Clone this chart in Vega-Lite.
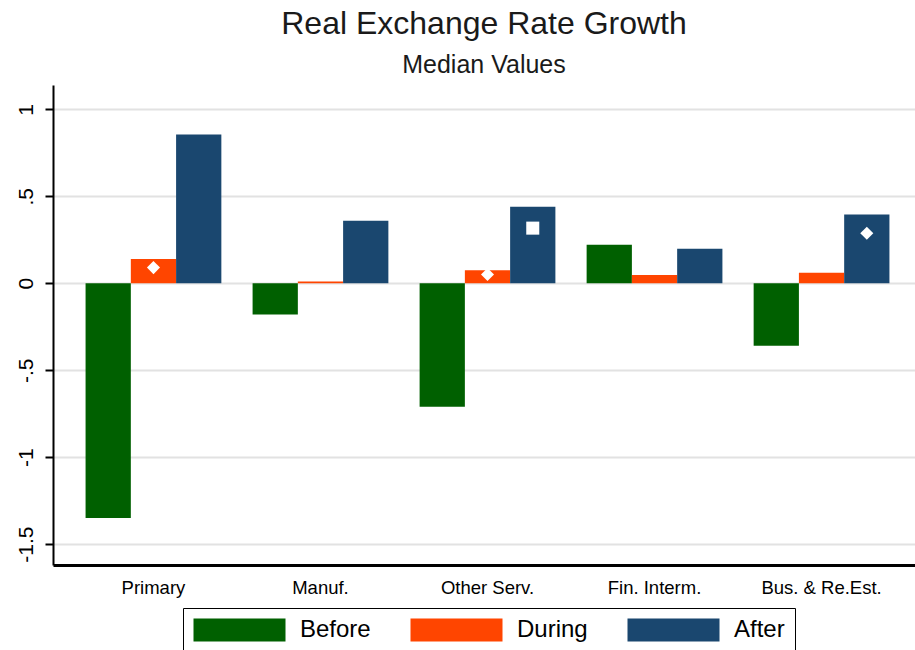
{
  "$schema": "https://vega.github.io/schema/vega-lite/v6.json",
  "autosize": "none",
  "padding": {"left": 53, "top": 85, "right": 0, "bottom": 85},
  "width": 862,
  "height": 480,
  "background": "white",
  "datasets": {
    "bars": [
      {"sector": "Primary", "period": "Before", "value": -1.35},
      {"sector": "Primary", "period": "During", "value": 0.14},
      {"sector": "Primary", "period": "After", "value": 0.855},
      {"sector": "Manuf.", "period": "Before", "value": -0.18},
      {"sector": "Manuf.", "period": "During", "value": 0.01},
      {"sector": "Manuf.", "period": "After", "value": 0.36},
      {"sector": "Other Serv.", "period": "Before", "value": -0.71},
      {"sector": "Other Serv.", "period": "During", "value": 0.075},
      {"sector": "Other Serv.", "period": "After", "value": 0.44},
      {"sector": "Fin. Interm.", "period": "Before", "value": 0.222},
      {"sector": "Fin. Interm.", "period": "During", "value": 0.048},
      {"sector": "Fin. Interm.", "period": "After", "value": 0.198},
      {"sector": "Bus. & Re.Est.", "period": "Before", "value": -0.36},
      {"sector": "Bus. & Re.Est.", "period": "During", "value": 0.061},
      {"sector": "Bus. & Re.Est.", "period": "After", "value": 0.395}
    ],
    "markers": [
      {"sector": "Primary", "period": "During", "value": 0.09, "kind": "d"},
      {"sector": "Other Serv.", "period": "During", "value": 0.05, "kind": "d"},
      {"sector": "Other Serv.", "period": "After", "value": 0.317, "kind": "s"},
      {"sector": "Bus. & Re.Est.", "period": "After", "value": 0.288, "kind": "d"}
    ]
  },
  "title": {
    "text": "Real Exchange Rate Growth",
    "subtitle": "Median Values",
    "font": "Liberation Sans",
    "subtitleFont": "Liberation Sans",
    "fontSize": 32,
    "subtitleFontSize": 25,
    "fontWeight": "normal",
    "color": "#1a1a1a",
    "subtitleColor": "#1a1a1a",
    "anchor": "middle",
    "offset": 6,
    "subtitlePadding": 12
  },
  "config": {
    "view": {"stroke": null},
    "font": "Liberation Sans",
    "legend": {"strokeColor": "black", "fillColor": "white"}
  },
  "layer": [
    {
      "data": {"name": "bars"},
      "mark": {"type": "bar"},
      "encoding": {
        "x": {
          "field": "sector",
          "type": "nominal",
          "sort": ["Primary", "Manuf.", "Other Serv.", "Fin. Interm.", "Bus. & Re.Est."],
          "scale": {"paddingInner": 0.187, "paddingOuter": 0.195, "range": [0, 869]},
          "axis": {
            "title": null,
            "labelAngle": 0,
            "labelFontSize": 18.5,
            "labelFont": "Liberation Sans",
            "labelColor": "black",
            "labelPadding": 13,
            "ticks": false,
            "domainColor": "black",
            "domainWidth": 3,
            "grid": false
          }
        },
        "xOffset": {
          "field": "period",
          "type": "nominal",
          "sort": ["Before", "During", "After"],
          "scale": {"paddingInner": 0, "paddingOuter": 0}
        },
        "y": {
          "field": "value",
          "type": "quantitative",
          "scale": {"domain": [-1.62, 1.14], "nice": false, "zero": false},
          "axis": {
            "title": null,
            "values": [-1.5, -1, -0.5, 0, 0.5, 1],
            "labelExpr": "(datum.value < 0 ? '-' : '') + replace(toString(abs(datum.value)), '0.', '.')",
            "labelAngle": 270,
            "labelAlign": "center",
            "labelBaseline": "bottom",
            "labelPadding": 9,
            "labelFontSize": 21,
            "labelFont": "Liberation Sans",
            "labelColor": "black",
            "domainColor": "black",
            "domainWidth": 2,
            "tickColor": "black",
            "tickWidth": 2,
            "tickSize": 8,
            "grid": true,
            "gridColor": "#e2e2e2",
            "gridWidth": 2
          }
        },
        "color": {
          "field": "period",
          "type": "nominal",
          "sort": ["Before", "During", "After"],
          "scale": {"domain": ["Before", "During", "After"], "range": ["#006000", "#ff4500", "#1a476f"]},
          "legend": {
            "title": null,
            "orient": "none",
            "legendX": 130,
            "legendY": 523,
            "direction": "horizontal",
            "symbolType": "M-1,-1H7V1H-1Z",
            "symbolSize": 529,
            "symbolStrokeWidth": 0,
            "symbolOpacity": 1,
            "labelFontSize": 24,
            "labelFont": "Liberation Sans",
            "labelColor": "black",
            "labelOffset": 83,
            "columnPadding": 39,
            "padding": 10
          }
        }
      }
    },
    {
      "data": {"name": "markers"},
      "mark": {"type": "point", "filled": true, "color": "white", "opacity": 1, "strokeWidth": 0, "size": 170},
      "encoding": {
        "x": {"field": "sector", "type": "nominal", "sort": ["Primary", "Manuf.", "Other Serv.", "Fin. Interm.", "Bus. & Re.Est."]},
        "xOffset": {"field": "period", "type": "nominal", "sort": ["Before", "During", "After"]},
        "y": {"field": "value", "type": "quantitative"},
        "shape": {
          "field": "kind",
          "type": "nominal",
          "scale": {"domain": ["d", "s"], "range": ["diamond", "square"]},
          "legend": null
        }
      }
    },
    {
      "mark": {"type": "rule", "color": "#333333", "strokeWidth": 2},
      "encoding": {"y": {"datum": 1.14}}
    }
  ]
}
